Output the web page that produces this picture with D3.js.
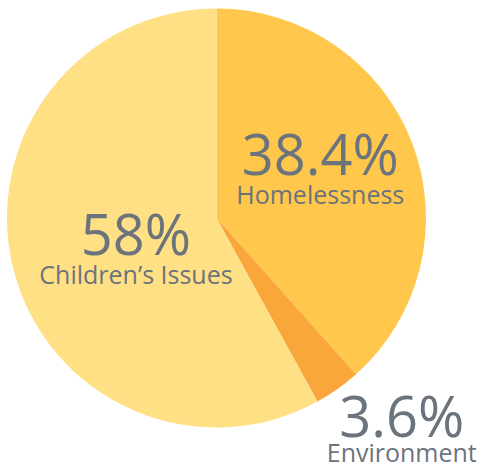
<!DOCTYPE html>
<html>
<head>
<meta charset="utf-8">
<script src="https://cdn.jsdelivr.net/npm/d3@7"></script>
<style>
  html, body { margin: 0; padding: 0; background: #ffffff; }
  svg { display: block; }
</style>
</head>
<body>
<svg id="chart"></svg>
<script>
// *************** DATA ***************
const categories = ["Homelessness", "Environment", "Children\u2019s Issues"];
const shares = [38.4, 3.6, 58];
const shareLabels = ["38.4%", "3.6%", "58%"];

// *************** CONSTANTS ***************
const width = 480,
      height = 464;

const cx = 216.5,
      cy = 218,
      radius = 209.5;

const colors = ["#ffc84c", "#f9a73a", "#ffe085"];
const textColor = "#6b737c";

// label placement relative to the slice centroid (px), plus gap to the name line
const labelOffsets = [
  { dx: 1,  dy: -4, gap: 29 },
  { dx: 34, dy: 5,  gap: 25 },
  { dx: 26, dy: 10, gap: 29 }
];

const svg = d3.select("#chart")
              .attr("width", width)
              .attr("height", height);

const g = svg.append("g")
             .attr("transform", `translate(${cx},${cy})`);

const pie = d3.pie()
              .sort(null)
              .value(d => d.value);

const arc = d3.arc()
              .innerRadius(0)
              .outerRadius(radius);

const slices = pie(categories.map((c, i) => ({ name: c, value: shares[i], label: shareLabels[i], idx: i })));

// *************** SLICES ***************
g.selectAll("path")
 .data(slices)
 .join("path")
 .attr("d", arc)
 .attr("fill", d => colors[d.data.idx]);

// *************** LABELS ***************
const labelArc = d3.arc()
                   .innerRadius(0)
                   .outerRadius(radius * 1.05);

const labelArcOuter = d3.arc()
                        .innerRadius(radius * 1.25)
                        .outerRadius(radius * 1.25);

const labels = g.selectAll("g.label")
                .data(slices)
                .join("g")
                .attr("class", "label")
                .attr("transform", d => {
                  const c = d.data.idx === 1 ? labelArcOuter.centroid(d) : labelArc.centroid(d);
                  const o = labelOffsets[d.data.idx];
                  return `translate(${c[0] + o.dx},${c[1] + o.dy})`;
                });

labels.append("text")
      .attr("text-anchor", "middle")
      .attr("font-family", "'Open Sans', sans-serif")
      .attr("font-size", "56px")
      .attr("fill", textColor)
      .text(d => d.data.label);

labels.append("text")
      .attr("text-anchor", "middle")
      .attr("y", d => labelOffsets[d.data.idx].gap)
      .attr("font-family", "'Open Sans', sans-serif")
      .attr("font-size", "25px")
      .attr("fill", textColor)
      .text(d => d.data.name);
</script>
</body>
</html>
